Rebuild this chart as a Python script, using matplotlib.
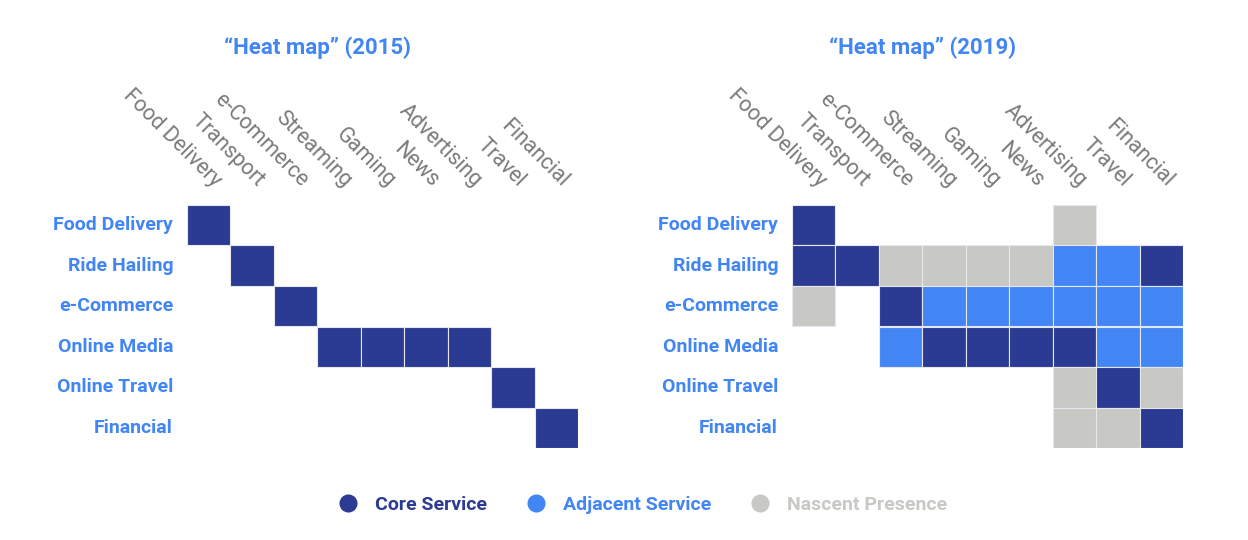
import numpy as np
import matplotlib
matplotlib.use("Agg")
import matplotlib.pyplot as plt
from matplotlib.patches import Rectangle
from matplotlib.lines import Line2D

plt.rcParams["font.family"] = ["Roboto", "DejaVu Sans"]

segments = ["Food Delivery", "Ride Hailing", "e-Commerce", "Online Media", "Online Travel", "Financial"]
services = ["Food Delivery", "Transport", "e-Commerce", "Streaming", "Gaming",
            "News", "Advertising", "Travel", "Financial"]
levels = ["Core Service", "Adjacent Service", "Nascent Presence"]

# 0 = none, 1 = nascent, 2 = adjacent, 3 = core
heat_2015 = [
    [3, 0, 0, 0, 0, 0, 0, 0, 0],
    [0, 3, 0, 0, 0, 0, 0, 0, 0],
    [0, 0, 3, 0, 0, 0, 0, 0, 0],
    [0, 0, 0, 3, 3, 3, 3, 0, 0],
    [0, 0, 0, 0, 0, 0, 0, 3, 0],
    [0, 0, 0, 0, 0, 0, 0, 0, 3],
]
heat_2019 = [
    [3, 0, 0, 0, 0, 0, 1, 0, 0],
    [3, 3, 1, 1, 1, 1, 2, 2, 3],
    [1, 0, 3, 2, 2, 2, 2, 2, 2],
    [0, 0, 2, 3, 3, 3, 3, 2, 2],
    [0, 0, 0, 0, 0, 0, 1, 3, 1],
    [0, 0, 0, 0, 0, 0, 1, 1, 3],
]

CORE = "#2B3A93"
ADJ = "#4285F4"
NASC = "#C8C8C4"
LABEL_BLUE = "#4285F4"
GRAY = "#7A7A7A"
level_colors = {1: NASC, 2: ADJ, 3: CORE}

fig = plt.figure(figsize=(12.48, 5.4), dpi=100)


def draw_heat(left, data, title, title_x):
    ax = fig.add_axes([left, 1 - 448 / 540, 391 / 1248, 243 / 540])
    for i, row in enumerate(data):
        for j, v in enumerate(row):
            if v:
                ax.add_patch(Rectangle((j, i), 1, 1, facecolor=level_colors[v],
                                       edgecolor="#E6E8EE", linewidth=0.8))
    ax.set_xlim(0, len(services))
    ax.set_ylim(len(segments), 0)
    ax.axis("off")
    for i, s in enumerate(segments):
        ax.text(-0.32, i + 0.5, s, ha="right", va="center", fontsize=14,
                fontweight="bold", color=LABEL_BLUE, clip_on=False)
    for j, s in enumerate(services):
        ax.text(j + 0.62, -0.42, s, rotation=-45, rotation_mode="anchor",
                ha="right", va="baseline", fontsize=15.5, color=GRAY, clip_on=False)
    fig.text(title_x, 1 - 48 / 540, title, ha="center", va="center",
             fontsize=16, fontweight="bold", color=LABEL_BLUE)


draw_heat(187 / 1248, heat_2015, "\u201cHeat map\u201d (2015)", 317 / 1248)
draw_heat(792 / 1248, heat_2019, "\u201cHeat map\u201d (2019)", 923 / 1248)

handles = [Line2D([], [], marker="o", linestyle="none", markersize=12, color=c)
           for c in [CORE, ADJ, NASC]]
leg = fig.legend(handles, levels, loc="center", bbox_to_anchor=(0.515, 1 - 505 / 540),
                 ncol=3, frameon=False, fontsize=14, handlelength=1, handletextpad=0.9,
                 columnspacing=2.0)
for t, c in zip(leg.get_texts(), [CORE, ADJ, NASC]):
    t.set_color(c)
    t.set_fontweight("bold")

fig.savefig("out.png", dpi=100)
